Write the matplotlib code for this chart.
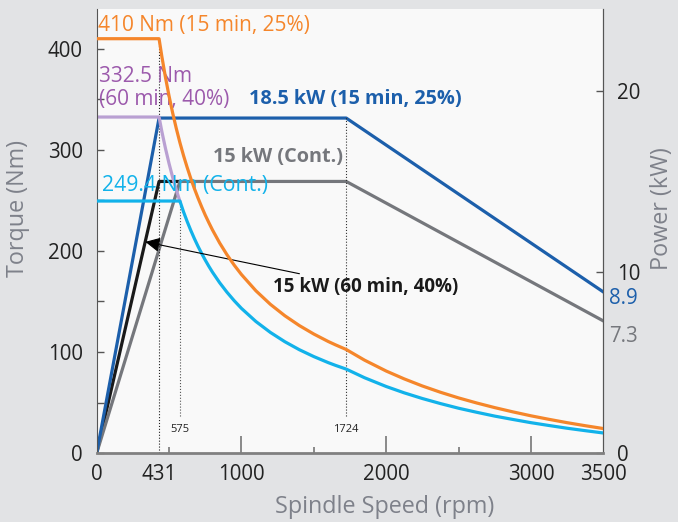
import numpy as np
import matplotlib
matplotlib.use("Agg")
import matplotlib.pyplot as plt

plt.rcParams['font.family'] = ['Open Sans', 'DejaVu Sans']

# spindle speed (rpm) and torque (Nm)
rpm_orange = [0, 431, 450, 475, 500, 525, 550, 575, 600, 625, 650, 675, 700, 725, 750, 775,
              800, 850, 900, 950, 1000, 1100, 1200, 1300, 1400, 1500, 1600, 1650, 1724,
              1850, 2000, 2125, 2250, 2375, 2500, 2625, 2750, 2875, 3000, 3125, 3250,
              3375, 3500]
torque_orange = [410, 410, 392.6, 371.9, 353.3, 336.5, 321.2, 307.2, 294.4, 282.7, 271.8,
                 261.7, 252.4, 243.7, 235.5, 228.0, 220.8, 207.8, 196.3, 186.0, 176.7,
                 160.6, 147.2, 135.9, 126.2, 117.8, 110.4, 107.1, 102.5, 92.0, 81.2, 73.4,
                 66.4, 60.2, 54.6, 49.6, 45.0, 40.8, 36.9, 33.4, 30.1, 27.1, 24.3]

rpm_cyan = [0, 575, 600, 625, 650, 675, 700, 725, 750, 775, 800, 850, 900, 950, 1000,
            1100, 1200, 1300, 1400, 1500, 1600, 1650, 1724, 1850, 2000, 2125, 2250, 2375,
            2500, 2625, 2750, 2875, 3000, 3125, 3250, 3375, 3500]
torque_cyan = [249.4, 249.4, 238.7, 229.2, 220.4, 212.2, 204.6, 197.6, 191.0, 184.8, 179.0,
               168.5, 159.2, 150.8, 143.2, 130.2, 119.4, 110.2, 102.3, 95.5, 89.5, 86.8,
               83.1, 74.6, 65.9, 59.6, 54.0, 49.0, 44.4, 40.4, 36.6, 33.3, 30.1, 27.3,
               24.6, 22.2, 19.9]

rpm_purple = [0, 431, 450, 475, 500, 525, 550, 575]
torque_purple = [332.5, 332.5, 318.3, 301.6, 286.5, 272.8, 260.4, 249.1]

# power (kW)
rpm_blue = [0, 431, 1724, 3500]
power_blue = [0, 18.5, 18.5, 8.9]
rpm_gray = [0, 575, 1724, 3500]
power_gray = [0, 15, 15, 7.3]
rpm_black = [0, 431, 575]
power_black = [0, 15, 15]

c_orange = '#f5862b'
c_cyan = '#12b2ea'
c_purple_line = '#b9a0d2'
c_purple_text = '#9c5aac'
c_blue = '#1c5fab'
c_gray = '#75777c'
c_black = '#1a1a1a'
c_label = '#7e818a'

fig = plt.figure(figsize=(6.78, 5.22), dpi=100, facecolor='#e2e3e5')
ax = fig.add_axes([0.1426, 0.132, 0.7472, 0.850])
ax2 = ax.twinx()

ax.set_xlim(0, 3500)
ax.set_ylim(0, 439)
ax2.set_ylim(0, 24.5)

lw = 2.3
ax.plot(rpm_purple, torque_purple, color=c_purple_line, lw=lw, zorder=2)
ax.plot(rpm_cyan, torque_cyan, color=c_cyan, lw=lw, zorder=3)
ax2.plot(rpm_black, power_black, color=c_black, lw=lw, zorder=3)
ax2.plot(rpm_gray, power_gray, color=c_gray, lw=lw, zorder=4)
ax2.plot(rpm_blue, power_blue, color=c_blue, lw=lw, zorder=5)
ax.plot(rpm_orange, torque_orange, color=c_orange, lw=lw, zorder=6)

# torque axes above power axes so orange stays on top
ax2.set_zorder(0)
ax.set_zorder(1)
ax.patch.set_visible(False)
ax2.patch.set_visible(True)
ax2.patch.set_facecolor('#f9f9f9')

# dotted guides
ax.plot([431, 431], [0, 410], color='#222222', lw=0.8, ls=':', zorder=1)
ax.plot([575, 575], [37, 249], color='#555555', lw=0.8, ls=':', zorder=1)
ax.plot([1724, 1724], [37, 332.5], color='#333333', lw=0.8, ls=':', zorder=1)
ax.text(575, 23, '575', fontsize=8, ha='center', va='center', color='#222222')
ax.text(1724, 23, '1724', fontsize=8, ha='center', va='center', color='#222222')

# labels in plot
ax.text(12, 423, '410 Nm (15 min, 25%)', color=c_orange, fontsize=15, va='center')
ax.text(15, 361, '332.5 Nm\n(60 min, 40%)', color=c_purple_text, fontsize=15, va='center',
        linespacing=1.1)
ax.text(1049, 350, '18.5 kW (15 min, 25%)', color=c_blue, fontsize=14.3,
        fontweight='bold', va='center')
ax.text(806, 293, '15 kW (Cont.)', color=c_gray, fontsize=14.3, fontweight='bold',
        va='center')
ax.text(37, 265, '249.4 Nm (Cont.)', color=c_cyan, fontsize=15.3, va='center')
ax.annotate('15 kW (60 min, 40%)', xy=(336, 209), xytext=(1216, 164),
            fontsize=13.5, fontweight='bold', color=c_black, va='center',
            arrowprops=dict(arrowstyle='-|>', color='black', lw=0.8,
                            mutation_scale=22, shrinkA=3, shrinkB=0))

# ticks
ax.set_xticks([0, 431, 1000, 2000, 3000, 3500])
ax.set_xticks([500, 1500, 2500], minor=True)
ax.set_yticks([0, 100, 200, 300, 400])
ax.set_yticks([50, 150, 250, 350], minor=True)
ax2.set_yticks([0, 10, 20])
ax.tick_params(axis='x', which='major', direction='in', length=12, width=1.2,
               color='#777777', pad=8, labelsize=14.8, labelcolor='#222222')
ax.tick_params(axis='x', which='minor', direction='in', length=4, width=1.2, color='#777777')
ax.tick_params(axis='y', which='both', direction='in', length=5, width=1,
               color='#555555', pad=10, labelsize=14.8, labelcolor='#222222')
ax2.tick_params(axis='y', direction='in', length=5, width=1, color='#555555',
                pad=10, labelsize=14.8, labelcolor='#222222')
for i in (0, 1, 5):
    ax.xaxis.get_major_ticks()[i].tick1line.set_visible(False)

ax2.annotate('8.9', xy=(3500, 8.9), xytext=(4, -5), textcoords='offset points',
             color=c_blue, fontsize=14.8, va='center', ha='left', annotation_clip=False)
ax2.annotate('7.3', xy=(3500, 7.3), xytext=(4, -11), textcoords='offset points',
             color=c_gray, fontsize=14.8, va='center', ha='left', annotation_clip=False)

for a in (ax, ax2):
    a.spines['top'].set_visible(False)
    a.spines['left'].set_color('#555555')
    a.spines['right'].set_color('#555555')
    a.spines['bottom'].set_color('#808080')
    a.spines['bottom'].set_linewidth(2)
ax2.spines['left'].set_visible(False)
ax2.spines['bottom'].set_visible(False)

fig.text(0.027, 0.60, 'Torque (Nm)', rotation=90, color=c_label, fontsize=16.8,
         ha='center', va='center')
fig.text(0.977, 0.60, 'Power (kW)', rotation=90, color=c_label, fontsize=16.8,
         ha='center', va='center')
fig.text(0.568, 0.028, 'Spindle Speed (rpm)', color=c_label, fontsize=16.8,
         ha='center', va='center')

fig.savefig('out.png', dpi=100, facecolor=fig.get_facecolor())
